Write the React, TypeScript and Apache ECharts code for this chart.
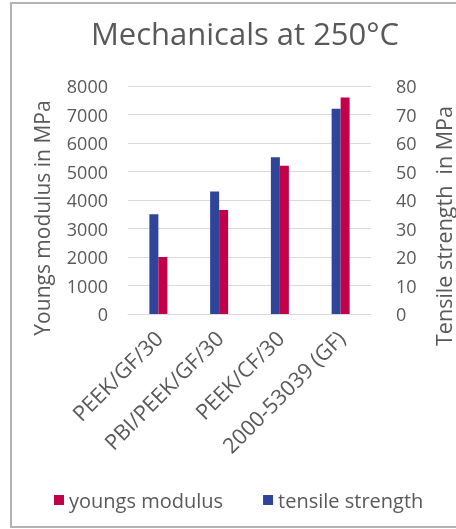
import React, { useEffect, useRef } from "react";
import * as echarts from "echarts";

const categories = ["PEEK/GF/30", "PBI/PEEK/GF/30", "PEEK/CF/30", "2000-53039 (GF)"];
const tensileStrength = [35, 43, 55, 72];
const youngsModulus = [2000, 3650, 5200, 7600];
const leftTicks = { min: 0, max: 8000, interval: 1000 };
const rightTicks = { min: 0, max: 80, interval: 10 };

const FONT = "Open Sans";
const TEXT = "#595959";
const BLUE = "#2F4599";
const RED = "#C4004A";

export default function App() {
  const ref = useRef<HTMLDivElement>(null);
  useEffect(() => {
    if (!ref.current) return;
    const chart = echarts.init(ref.current, null, { renderer: "svg" });
    chart.setOption({
      animation: false,
      textStyle: { fontFamily: FONT },
      title: {
        text: "Mechanicals at 250°C",
        left: 240,
        textAlign: "center",
        top: 12,
        textStyle: { fontFamily: FONT, fontSize: 31, fontWeight: "normal", color: TEXT },
      },
      graphic: [
        {
          type: "rect",
          shape: { x: 11, y: 3, width: 460, height: 524 },
          style: { fill: "none", stroke: "#b3b3b3", lineWidth: 2 },
          silent: true,
        },
        {
          type: "text",
          x: 42,
          y: 218,
          rotation: Math.PI / 2,
          style: {
            text: "Youngs modulus in MPa",
            fontFamily: FONT,
            fontSize: 21,
            fill: TEXT,
            align: "center",
            verticalAlign: "middle",
          },
          silent: true,
        },
        {
          type: "text",
          x: 443,
          y: 226,
          rotation: Math.PI / 2,
          style: {
            text: "Tensile strength  in MPa",
            fontFamily: FONT,
            fontSize: 21.5,
            fill: TEXT,
            align: "center",
            verticalAlign: "middle",
          },
          silent: true,
        },
      ],
      legend: {
        bottom: 14,
        left: 49,
        itemWidth: 10,
        itemHeight: 10,
        itemGap: 40,
        icon: "rect",
        data: ["youngs modulus", "tensile strength"],
        textStyle: { fontFamily: FONT, fontSize: 20, color: TEXT },
      },
      grid: { left: 128, right: 85, top: 86, bottom: 215, containLabel: false },
      xAxis: {
        type: "category",
        data: categories,
        axisLine: { lineStyle: { color: "#d9d9d9" } },
        axisTick: { show: false },
        axisLabel: {
          rotate: 45,
          interval: 0,
          margin: 20,
          fontFamily: FONT,
          fontSize: 21.5,
          color: TEXT,
        },
      },
      yAxis: [
        {
          type: "value",
          ...leftTicks,
          axisLabel: {
            margin: 20,
            fontFamily: FONT,
            fontSize: 18,
            color: TEXT,
            formatter: (v: number) => String(v),
          },
          splitLine: { lineStyle: { color: "#d9d9d9" } },
          axisLine: { show: false },
          axisTick: { show: false },
        },
        {
          type: "value",
          ...rightTicks,
          position: "right",
          axisLabel: {
            margin: 25,
            fontFamily: FONT,
            fontSize: 18,
            color: TEXT,
            formatter: (v: number) => String(v),
          },
          splitLine: { show: false },
          axisLine: { show: false },
          axisTick: { show: false },
        },
      ],
      series: [
        {
          name: "tensile strength",
          type: "bar",
          yAxisIndex: 1,
          data: tensileStrength,
          barWidth: 9,
          barGap: "0%",
          itemStyle: { color: BLUE },
        },
        {
          name: "youngs modulus",
          type: "bar",
          yAxisIndex: 0,
          data: youngsModulus,
          barWidth: 9,
          barGap: "0%",
          itemStyle: { color: RED },
        },
      ],
    });
    return () => chart.dispose();
  }, []);
  return (
    <div
      ref={ref}
      style={{ position: "fixed", left: 0, top: 0, width: 456, height: 529 }}
    />
  );
}
